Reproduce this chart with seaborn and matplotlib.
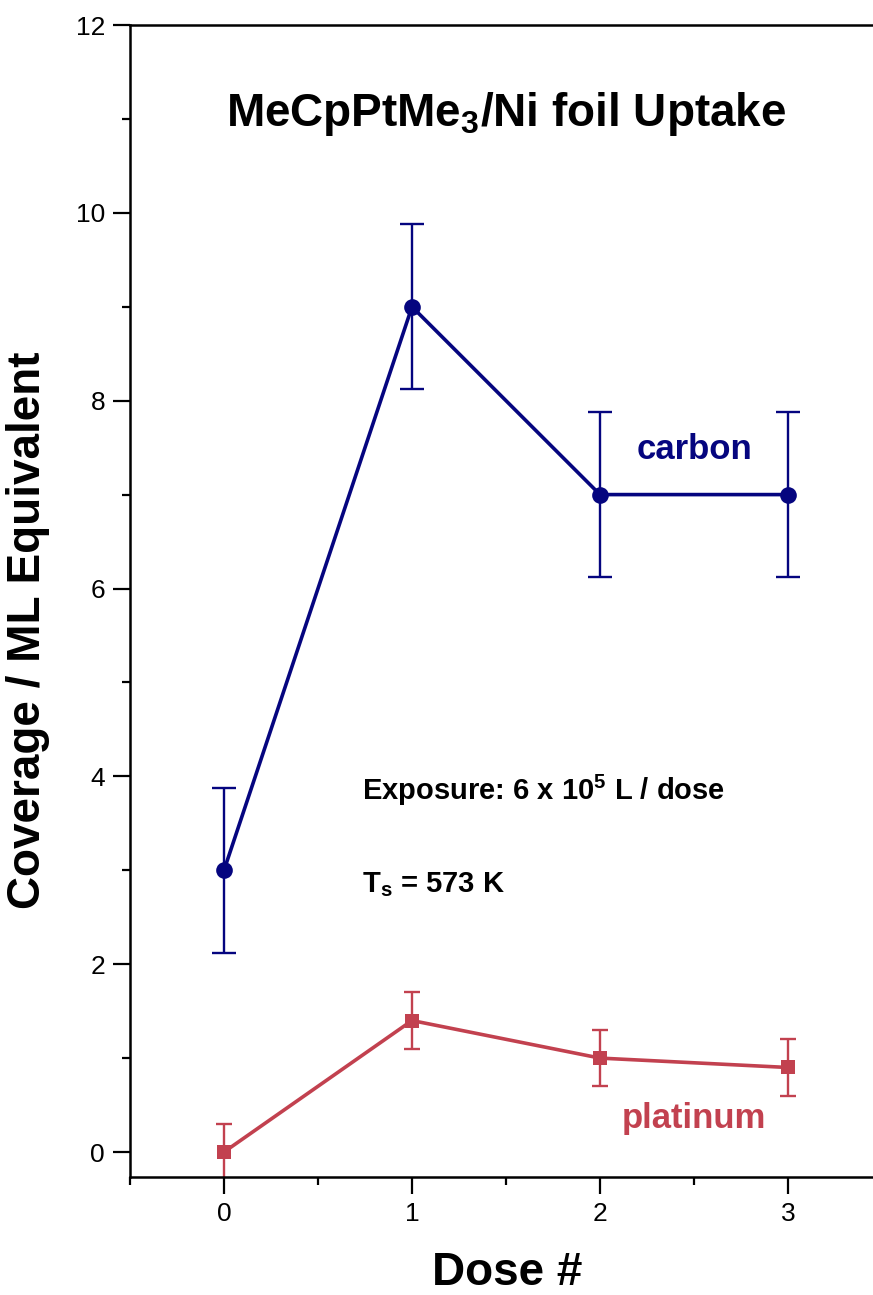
import matplotlib
matplotlib.use("Agg")
import matplotlib.pyplot as plt
import seaborn as sns
import pandas as pd
from matplotlib.ticker import MultipleLocator

dose = [0, 1, 2, 3]
carbon = [3.0, 9.0, 7.0, 7.0]
carbon_err = [0.88, 0.88, 0.88, 0.88]
platinum = [0.0, 1.4, 1.0, 0.9]
platinum_err = [0.3, 0.3, 0.3, 0.3]

C_COL = "#05057f"
P_COL = "#c2414f"

sns.set_theme(style="ticks")
plt.rcParams['font.family'] = ['Liberation Sans', 'DejaVu Sans']
plt.rcParams['text.color'] = 'black'
plt.rcParams['axes.labelcolor'] = 'black'
plt.rcParams['xtick.color'] = 'black'
plt.rcParams['ytick.color'] = 'black'
plt.rcParams['mathtext.fontset'] = 'custom'
plt.rcParams['mathtext.rm'] = 'Liberation Sans:bold'
plt.rcParams['mathtext.bf'] = 'Liberation Sans:bold'
plt.rcParams['mathtext.it'] = 'Liberation Sans:bold'

fig = plt.figure(figsize=(8.73, 12.95), dpi=100)
ax = fig.add_axes([130/873, 1 - 1177/1295, 1 - 130/873, (1177 - 25)/1295])

df_c = pd.DataFrame({"dose": dose, "val": carbon})
df_p = pd.DataFrame({"dose": dose, "val": platinum})

sns.lineplot(data=df_c, x="dose", y="val", ax=ax, color=C_COL, lw=2.6,
             marker="o", markersize=12, markeredgewidth=0)
sns.lineplot(data=df_p, x="dose", y="val", ax=ax, color=P_COL, lw=2.6,
             marker="s", markersize=10, markeredgewidth=0)
ax.errorbar(dose, carbon, yerr=carbon_err, fmt="none", ecolor=C_COL,
            elinewidth=1.7, capsize=8.5, capthick=1.7)
ax.errorbar(dose, platinum, yerr=platinum_err, fmt="none", ecolor=P_COL,
            elinewidth=1.7, capsize=6, capthick=1.7)

ax.set_xlim(-0.5, -0.5 + 743/188)
ax.set_ylim(-0.266, 12)
ax.set_xticks([0, 1, 2, 3])
ax.set_xticklabels(["0", "1", "2", "3"])
ax.xaxis.set_minor_locator(MultipleLocator(0.5))
ax.yaxis.set_major_locator(MultipleLocator(2))
ax.yaxis.set_minor_locator(MultipleLocator(1))

for s in ["left", "bottom", "top"]:
    ax.spines[s].set_linewidth(1.8)
    ax.spines[s].set_color("black")
ax.spines["right"].set_visible(False)
ax.tick_params(which="major", direction="out", length=12, width=1.6, labelsize=19,
               colors="black", pad=6)
ax.tick_params(which="minor", direction="out", length=6, width=1.6)
ax.tick_params(top=False, right=False, which="both")

ax.set_xlabel("Dose #", fontsize=33, fontweight="bold")
ax.set_ylabel("Coverage / ML Equivalent", fontsize=33, fontweight="bold")
ax.xaxis.set_label_coords((507 - 130) / 743, -0.064)
ax.yaxis.set_label_coords((50 - 130) / 743, (1177 - 630) / 1152)

fig.text((228 + 785) / 2 / 873, 1 - 114/1295, r"MeCpPtMe$_\mathbf{3}$/Ni foil Uptake",
         fontsize=33, fontweight="bold", ha="center", va="center")
ax.text(2.5, 7.48, "carbon", color=C_COL, fontsize=25, fontweight="bold",
        ha="center", va="center")
ax.text(2.5, 0.36, "platinum", color=P_COL, fontsize=25, fontweight="bold",
        ha="center", va="center")
ax.text(0.735, 3.85, r"Exposure: 6 x 10$^\mathbf{5}$ L / dose", fontsize=21,
        fontweight="bold", ha="left", va="center")
ax.text(0.735, 2.85, r"T$_\mathbf{s}$ = 573 K", fontsize=21, fontweight="bold",
        ha="left", va="center")

fig.savefig("out.png", dpi=100)
